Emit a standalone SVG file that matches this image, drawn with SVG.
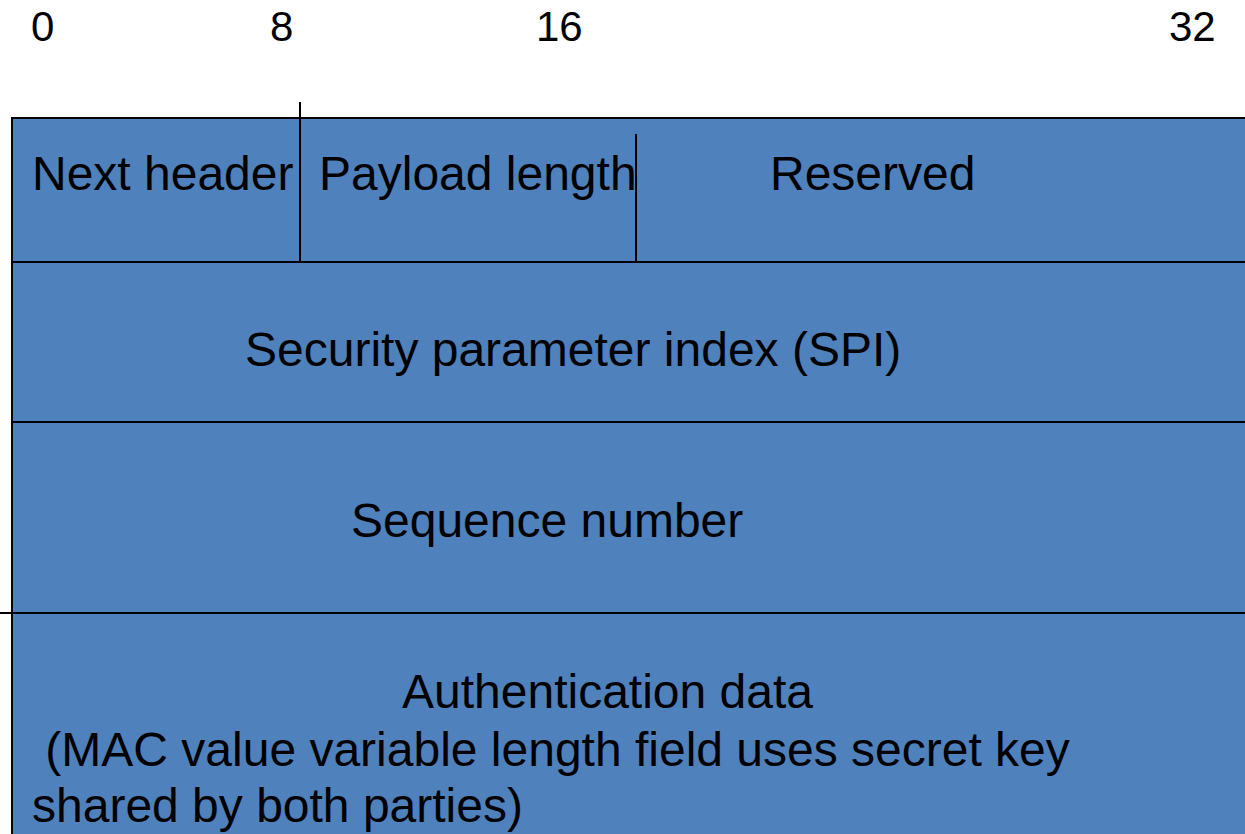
<svg xmlns="http://www.w3.org/2000/svg" width="1245" height="834" viewBox="0 0 1245 834">
<style>
.t{font-family:"Liberation Sans",Arial,sans-serif;font-size:48px;fill:#000}
.n{font-family:"Liberation Sans",Arial,sans-serif;font-size:42px;fill:#000}
.box{fill:#4F81BD;stroke:#000;stroke-width:2}
.ln{stroke:#000;stroke-width:2;fill:none}
</style>
<rect width="1245" height="834" fill="#fff"/>
<g id="scale">
<text class="n" x="31" y="41">0</text>
<text class="n" x="270" y="41">8</text>
<text class="n" x="536" y="41">16</text>
<text class="n" x="1169" y="41">32</text>
</g>
<g id="row1">
<rect class="box" x="12" y="118" width="1245" height="144"/>
<text class="t" x="32" y="190">Next header</text>
<text class="t" x="319" y="190">Payload length</text>
<text class="t" x="770" y="190">Reserved</text>
</g>
<g id="row2">
<rect class="box" x="12" y="262" width="1245" height="160"/>
<text class="t" x="245" y="366">Security parameter index (SPI)</text>
</g>
<g id="row3">
<rect class="box" x="12" y="422" width="1245" height="191"/>
<text class="t" x="351" y="537">Sequence number</text>
</g>
<g id="row4">
<rect class="box" x="12" y="613" width="1245" height="240"/>
<text class="t" x="402" y="708">Authentication data</text>
<text class="t" x="32" y="766" xml:space="preserve"> (MAC value variable length field uses secret key</text>
<text class="t" x="32" y="822">shared by both parties)</text>
</g>
<g id="connectors">
<line class="ln" x1="300" y1="102" x2="300" y2="262"/>
<line class="ln" x1="636" y1="134" x2="636" y2="262"/>
<line class="ln" x1="0" y1="613" x2="12" y2="613"/>
</g>
</svg>
